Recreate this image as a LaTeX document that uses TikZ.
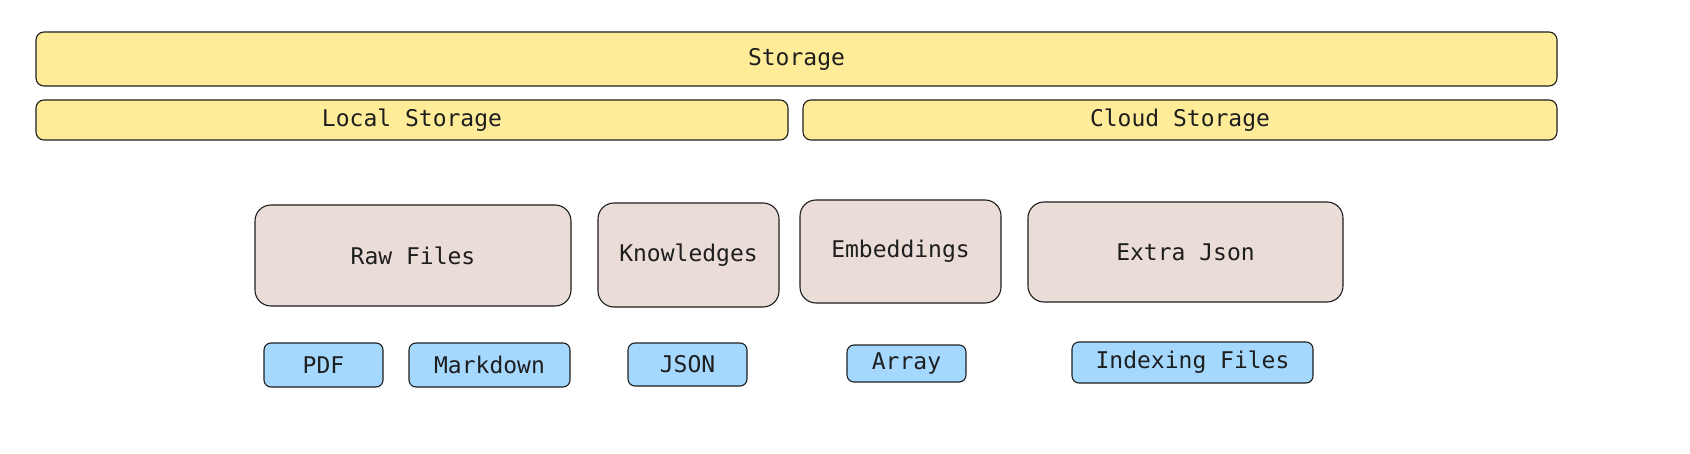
\documentclass[tikz,border=0pt]{standalone}
\usepackage{fontspec}
\setmainfont{DejaVu Sans Mono}
\usetikzlibrary{positioning}

\definecolor{layeryellow}{HTML}{FFEC99}
\definecolor{groupbrown}{HTML}{EADDD7}
\definecolor{itemblue}{HTML}{A5D8FF}
\definecolor{inkdark}{HTML}{1E1E1E}

\tikzset{
  layer/.style={rectangle, draw=inkdark, line width=0.55pt, fill=layeryellow, rounded corners=4pt, inner sep=0pt},
  group/.style={rectangle, draw=inkdark, line width=0.55pt, fill=groupbrown, rounded corners=8pt, inner sep=0pt},
  item/.style={rectangle, draw=inkdark, line width=0.55pt, fill=itemblue, rounded corners=3.5pt, inner sep=0pt}
}

\begin{document}
\begin{tikzpicture}[x=0.5pt, y=-0.5pt, font=\fontsize{11.5}{13.5}\selectfont, text=inkdark]

\useasboundingbox (0, 0) rectangle (1690, 454);

\node[layer, minimum width=760.5pt, minimum height=27pt] (storage) at (796.5, 59) {Storage};
\node[layer, minimum width=376pt, minimum height=20pt] (local) at (412, 120) {Local Storage};
\node[layer, minimum width=377pt, minimum height=20pt] (cloud) at (1180, 120) {Cloud Storage};

\node[group, minimum width=158pt, minimum height=50.5pt] (raw) at (413, 255.5) {Raw Files};
\node[group, minimum width=90.5pt, minimum height=52pt] (know) at (688.5, 255) {Knowledges};
\node[group, minimum width=100.5pt, minimum height=51.5pt] (embed) at (900.5, 251.5) {Embeddings};
\node[group, minimum width=157.5pt, minimum height=50pt] (extra) at (1185.5, 252) {Extra Json};

\node[item, minimum width=59.5pt, minimum height=22pt] (pdf) at (323.5, 365) {PDF};
\node[item, minimum width=80.5pt, minimum height=22pt] (md) at (489.5, 365) {Markdown};
\node[item, minimum width=59.5pt, minimum height=21.5pt] (json) at (687.5, 364.5) {JSON};
\node[item, minimum width=59.5pt, minimum height=18.5pt] (array) at (906.5, 363.5) {Array};
\node[item, minimum width=120.5pt, minimum height=20.5pt] (index) at (1192.5, 362.5) {Indexing Files};

\end{tikzpicture}
\end{document}
